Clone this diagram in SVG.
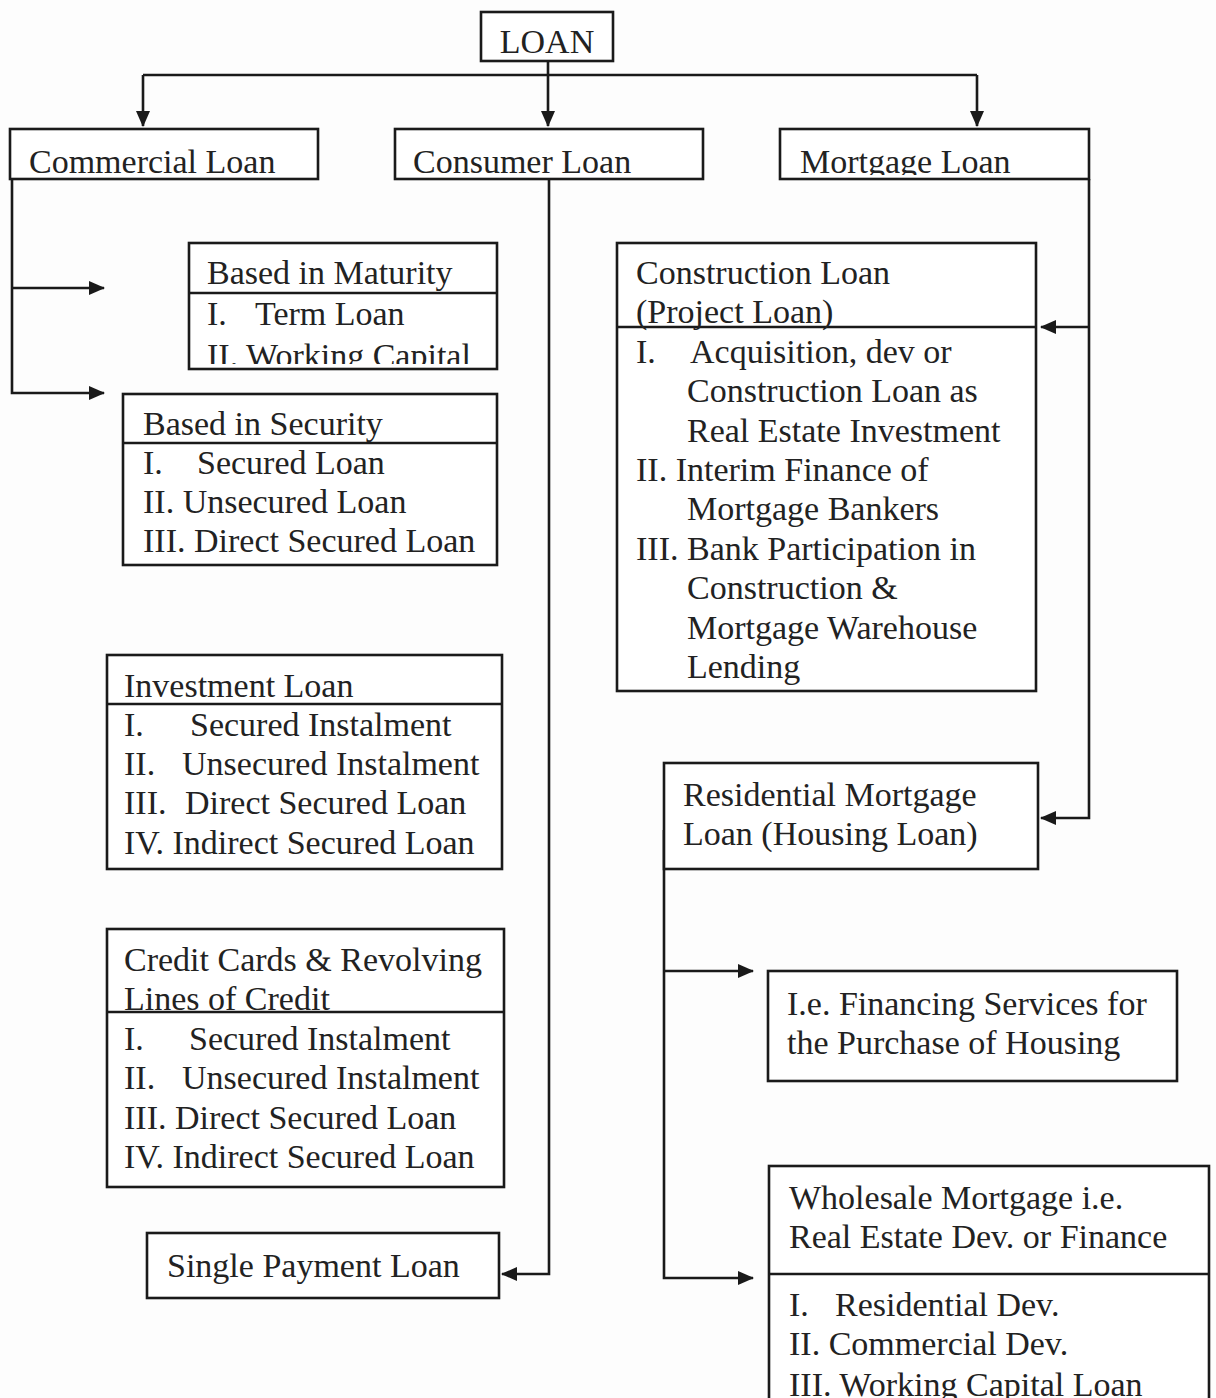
<svg xmlns="http://www.w3.org/2000/svg" width="1216" height="1398" viewBox="0 0 1216 1398">
<style>
.box{fill:#fff;stroke:#1a1a1a;stroke-width:2.6}
.div{stroke:#1a1a1a;stroke-width:2.6;fill:none}
.t{font-family:"Liberation Serif","Times New Roman",serif;font-size:34px;fill:#222}
.c{fill:none;stroke:#1a1a1a;stroke-width:2.6}
.a{marker-end:url(#arr)}
</style>
<defs>
<marker id="arr" markerUnits="userSpaceOnUse" markerWidth="16" markerHeight="14" refX="15" refY="7" orient="auto">
<path d="M0,0 L16,7 L0,14 z" fill="#1a1a1a"/>
</marker>
<clipPath id="clipMat"><rect x="189" y="243" width="308" height="121"/></clipPath>
<clipPath id="clipTop"><rect x="0" y="129" width="1216" height="46"/></clipPath>
</defs>
<rect width="1216" height="1398" fill="#fdfdfd"/>

<g id="connectors">
<path class="c a" d="M548,61 V126"/>
<path class="c" d="M143,75 H977"/>
<path class="c a" d="M143,75 V126"/>
<path class="c a" d="M977,75 V126"/>
<path class="c a" d="M12,179 V393 H104"/>
<path class="c a" d="M12,288 H104"/>
<path class="c a" d="M549,179 V1274 H502"/>
<path class="c a" d="M1089,179 V818 H1041"/>
<path class="c a" d="M1089,327 H1041"/>
<path class="c a" d="M664,830 V1278 H753"/>
<path class="c a" d="M664,971 H753"/>
</g>

<g id="loan">
<rect class="box" x="481" y="12" width="132" height="49"/>
<text class="t" x="547" y="53" text-anchor="middle">LOAN</text>
</g>

<g id="commercial">
<rect class="box" x="10" y="129" width="308" height="50"/>
<text class="t" x="29" y="173" clip-path="url(#clipTop)">Commercial Loan</text>
</g>

<g id="consumer">
<rect class="box" x="395" y="129" width="308" height="50"/>
<text class="t" x="413" y="173" clip-path="url(#clipTop)">Consumer Loan</text>
</g>

<g id="mortgage">
<rect class="box" x="780" y="129" width="309" height="50"/>
<text class="t" x="800" y="173" clip-path="url(#clipTop)">Mortgage Loan</text>
</g>

<g id="maturity">
<rect class="box" x="189" y="243" width="308" height="126"/>
<line class="div" x1="189" y1="293" x2="497" y2="293"/>
<text class="t" x="207" y="284">Based in Maturity</text>
<g clip-path="url(#clipMat)">
<text class="t" y="325"><tspan x="207">I.</tspan><tspan x="255">Term Loan</tspan></text>
<text class="t" x="207" y="367">II. Working Capital</text>
</g>
</g>

<g id="security">
<rect class="box" x="123" y="394" width="374" height="171"/>
<line class="div" x1="123" y1="443" x2="497" y2="443"/>
<text class="t" x="143" y="435">Based in Security</text>
<text class="t" y="474"><tspan x="143">I.</tspan><tspan x="197">Secured Loan</tspan></text>
<text class="t" x="143" y="513">II. Unsecured Loan</text>
<text class="t" x="143" y="552">III. Direct Secured Loan</text>
</g>

<g id="investment">
<rect class="box" x="107" y="655" width="395" height="214"/>
<line class="div" x1="107" y1="704" x2="502" y2="704"/>
<text class="t" x="124" y="697">Investment Loan</text>
<text class="t" y="736"><tspan x="124">I.</tspan><tspan x="190">Secured Instalment</tspan></text>
<text class="t" y="775"><tspan x="124">II.</tspan><tspan x="182">Unsecured Instalment</tspan></text>
<text class="t" y="814"><tspan x="124">III.</tspan><tspan x="185">Direct Secured Loan</tspan></text>
<text class="t" x="124" y="854">IV. Indirect Secured Loan</text>
</g>

<g id="credit">
<rect class="box" x="107" y="929" width="397" height="258"/>
<line class="div" x1="107" y1="1012" x2="504" y2="1012"/>
<text class="t" x="124" y="971">Credit Cards &amp; Revolving</text>
<text class="t" x="124" y="1010">Lines of Credit</text>
<text class="t" y="1050"><tspan x="124">I.</tspan><tspan x="189">Secured Instalment</tspan></text>
<text class="t" y="1089"><tspan x="124">II.</tspan><tspan x="182">Unsecured Instalment</tspan></text>
<text class="t" x="124" y="1129">III. Direct Secured Loan</text>
<text class="t" x="124" y="1168">IV. Indirect Secured Loan</text>
</g>

<g id="single">
<rect class="box" x="147" y="1233" width="352" height="65"/>
<text class="t" x="167" y="1277">Single Payment Loan</text>
</g>

<g id="construction">
<rect class="box" x="617" y="243" width="419" height="448"/>
<line class="div" x1="617" y1="327" x2="1036" y2="327"/>
<text class="t" x="636" y="284">Construction Loan</text>
<text class="t" x="636" y="323">(Project Loan)</text>
<text class="t" y="363"><tspan x="636">I.</tspan><tspan x="690">Acquisition, dev or</tspan></text>
<text class="t" x="687" y="402">Construction Loan as</text>
<text class="t" x="687" y="442">Real Estate Investment</text>
<text class="t" x="636" y="481">II. Interim Finance of</text>
<text class="t" x="687" y="520">Mortgage Bankers</text>
<text class="t" x="636" y="560">III. Bank Participation in</text>
<text class="t" x="687" y="599">Construction &amp;</text>
<text class="t" x="687" y="639">Mortgage Warehouse</text>
<text class="t" x="687" y="678">Lending</text>
</g>

<g id="residential">
<rect class="box" x="664" y="763" width="374" height="106"/>
<text class="t" x="683" y="806">Residential Mortgage</text>
<text class="t" x="683" y="845">Loan (Housing Loan)</text>
</g>

<g id="financing">
<rect class="box" x="768" y="971" width="409" height="110"/>
<text class="t" x="787" y="1015">I.e. Financing Services for</text>
<text class="t" x="787" y="1054">the Purchase of Housing</text>
</g>

<g id="wholesale">
<rect class="box" x="769" y="1166" width="440" height="250"/>
<line class="div" x1="769" y1="1274" x2="1209" y2="1274"/>
<text class="t" x="789" y="1209">Wholesale Mortgage i.e.</text>
<text class="t" x="789" y="1248">Real Estate Dev. or Finance</text>
<text class="t" y="1316"><tspan x="789">I.</tspan><tspan x="835">Residential Dev.</tspan></text>
<text class="t" x="789" y="1355">II. Commercial Dev.</text>
<text class="t" x="789" y="1396">III. Working Capital Loan</text>
</g>
</svg>
